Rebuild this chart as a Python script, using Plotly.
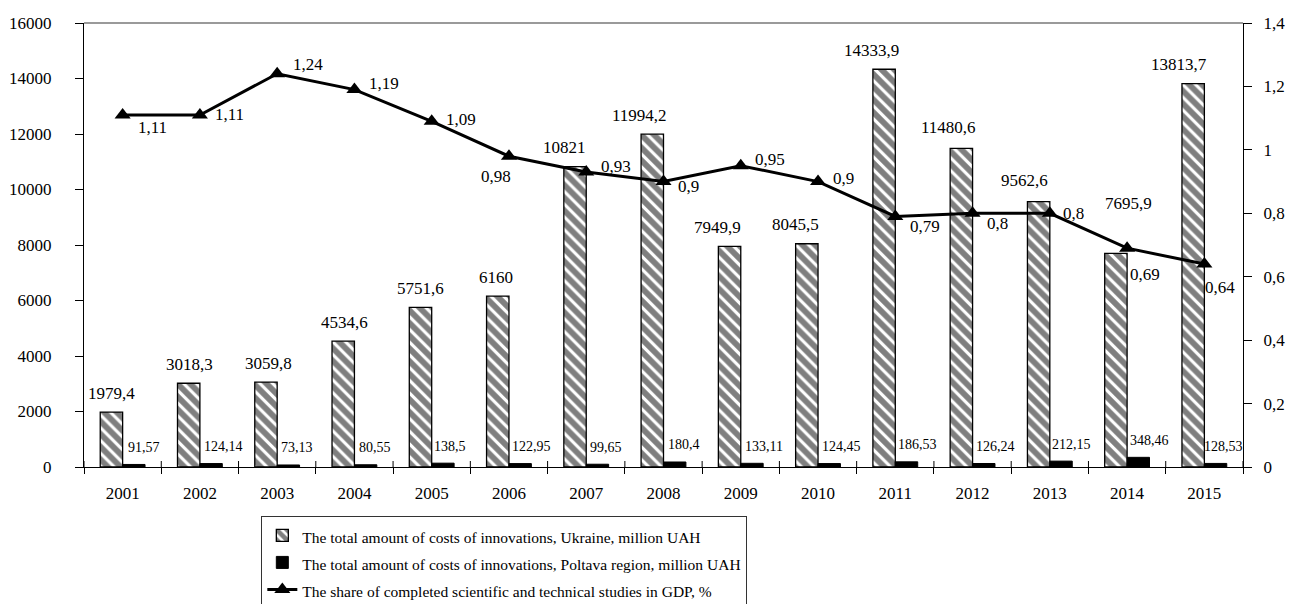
import plotly.graph_objects as go

years = ["2001", "2002", "2003", "2004", "2005", "2006", "2007", "2008",
         "2009", "2010", "2011", "2012", "2013", "2014", "2015"]
ukraine = [1979.4, 3018.3, 3059.8, 4534.6, 5751.6, 6160, 10821, 11994.2,
           7949.9, 8045.5, 14333.9, 11480.6, 9562.6, 7695.9, 13813.7]
poltava = [91.57, 124.14, 73.13, 80.55, 138.5, 122.95, 99.65, 180.4,
           133.11, 124.45, 186.53, 126.24, 212.15, 348.46, 128.53]
share = [1.11, 1.11, 1.24, 1.19, 1.09, 0.98, 0.93, 0.9,
         0.95, 0.9, 0.79, 0.8, 0.8, 0.69, 0.64]

left_ticks = [0, 2000, 4000, 6000, 8000, 10000, 12000, 14000, 16000]
right_ticks = [0, 0.2, 0.4, 0.6, 0.8, 1.0, 1.2, 1.4]
right_ticktext = ["0", "0,2", "0,4", "0,6", "0,8", "1", "1,2", "1,4"]

names = ["The total amount of costs of innovations, Ukraine, million UAH",
         "The total amount of costs of innovations, Poltava region, million UAH",
         "The share of completed scientific and technical studies in GDP, %"]

# label placement (pixel offsets), styling only
ukr_dx = [-11, -10, -9, -10, -11, -13, -22, -24, -23, -23, -24, -24, -25, 1, -25]
ukr_dy = [19, 19, 19, 19, 19, 19, 19, 19, 19, 19, 19, 21, 21, 50, 19]
pol_dx = [21, 24, 20, 21, 18, 23, 20, 20, 23, 23, 22, 23, 22, 22, 19]
line_dx = [30, 30, 31, 30, 29, -13, 30, 25, 29, 25, 30, 25, 24, 18, 16]
line_dy = [-13, 0, 9, 6, 2, -20, 6, -5, 6, 3, -10, -10, 0, -26, -23]

FONT = "Liberation Serif, Times New Roman, serif"


def fmt(v):
    return str(v).replace(".", ",")


def legend_name(s):
    return '<span style="font-size:15.5px">' + s + '</span>'


fig = go.Figure()
fig.add_trace(go.Bar(
    x=years, y=ukraine, name=legend_name(names[0]),
    marker=dict(color="white", line=dict(color="black", width=1.3),
                pattern=dict(shape="\\", fgcolor="black", bgcolor="white",
                             size=9, solidity=0.65)),
))
fig.add_trace(go.Bar(
    x=years, y=poltava, name=legend_name(names[1]),
    marker=dict(color="black", line=dict(color="black", width=1)),
))
fig.add_trace(go.Scatter(
    x=years, y=share, name=legend_name(names[2]), yaxis="y2", mode="lines+markers",
    line=dict(color="black", width=3),
    marker=dict(symbol="triangle-up", size=14, color="black"),
))

# annotations use the category index (numeric-looking category strings
# would be read as indices by plotly)
ann = []
for i in range(len(years)):
    ann.append(dict(x=i, y=ukraine[i], xref="x", yref="y", text=fmt(ukraine[i]),
                    showarrow=False, xshift=ukr_dx[i], yshift=ukr_dy[i],
                    font=dict(size=17, family=FONT, color="black")))
    ann.append(dict(x=i, y=poltava[i], xref="x", yref="y", text=fmt(poltava[i]),
                    showarrow=False, xshift=pol_dx[i], yshift=17,
                    font=dict(size=14, family=FONT, color="black")))
    ann.append(dict(x=i, y=share[i], xref="x", yref="y2", text=fmt(share[i]),
                    showarrow=False, xshift=line_dx[i], yshift=line_dy[i],
                    font=dict(size=17, family=FONT, color="black")))

# top border + inner half of the crossing x-axis ticks (category boundaries)
n = len(years)
shapes = [dict(type="line", xref="paper", yref="paper", x0=0, x1=1, y0=1, y1=1,
               line=dict(color="#9a9a9a", width=2))]
for k in range(n + 1):
    shapes.append(dict(type="line", xref="paper", yref="paper", x0=k / n, x1=k / n,
                       y0=0, y1=6 / 444, line=dict(color="black", width=1)))

fig.update_layout(
    width=1295, height=604,
    margin=dict(l=84, r=52, t=23, b=137, autoexpand=False),
    paper_bgcolor="white", plot_bgcolor="white",
    font=dict(family=FONT, size=17, color="black"),
    barmode="group", bargap=0.42, bargroupgap=0,
    showlegend=True,
    legend=dict(x=0.153, y=-0.11, xanchor="left", yanchor="top",
                bordercolor="#333", borderwidth=1, bgcolor="white",
                font=dict(size=18.5, family=FONT), tracegroupgap=0),
    xaxis=dict(type="category", showline=True, linecolor="black", linewidth=1.3,
               ticks="outside", tickson="boundaries", ticklen=6, tickcolor="black",
               showgrid=False, ticklabelstandoff=10, tickangle=0,
               range=[-0.5, n - 0.5]),
    yaxis=dict(range=[0, 16000], tickvals=left_ticks, ticktext=[str(t) for t in left_ticks],
               showline=True, linecolor="black", linewidth=1.3, ticks="outside",
               ticklen=8, tickcolor="black", showgrid=False, zeroline=False,
               ticklabelstandoff=20),
    yaxis3=dict(overlaying="y", anchor="x", side="left", range=[0, 16000],
                tickvals=left_ticks, ticks="inside", ticklen=8, tickcolor="black",
                showticklabels=False, showgrid=False, zeroline=False, showline=False),
    yaxis2=dict(overlaying="y", side="right", anchor="x", range=[0, 1.4],
                tickvals=right_ticks, ticktext=right_ticktext,
                showline=True, linecolor="black", linewidth=1.3, ticks="outside",
                ticklen=8, tickcolor="black", showgrid=False, zeroline=False,
                ticklabelstandoff=8),
    yaxis4=dict(overlaying="y", side="right", anchor="x", range=[0, 1.4],
                tickvals=right_ticks, ticks="inside", ticklen=8, tickcolor="black",
                showticklabels=False, showgrid=False, zeroline=False, showline=False),
    shapes=shapes,
    annotations=ann,
)

fig.write_html("out.html", config={"displayModeBar": False},
               post_script="document.body.style.margin='0';")
